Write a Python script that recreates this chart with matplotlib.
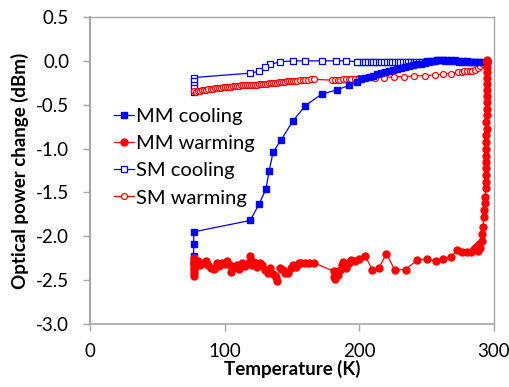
import numpy as np
import matplotlib
matplotlib.use("Agg")
import matplotlib.pyplot as plt

plt.rcParams['font.family'] = ['Lato', 'DejaVu Sans']

# MM cooling (filled squares), measured from 295 K down to 77 K
mm_cool_T = [295, 292, 289, 286, 283, 280, 277, 274, 271, 268, 265, 262,
             258, 255, 252, 249, 246, 243, 240, 237, 234, 231, 228, 225,
             222, 219, 216, 213, 210, 207, 204, 201, 198, 192.5, 183.5, 172,
             160, 150.5, 142, 136, 133, 130.7, 125.7, 119, 77, 77, 77, 77]
mm_cool_P = [-0.01, -0.01, -0.01, -0.01, -0.01, 0.0, 0.0, 0.0, 0.01, 0.01, 0.01, 0.01,
             0.01, 0.0, -0.01, -0.02, -0.03, -0.04, -0.05, -0.06, -0.07, -0.08, -0.09, -0.10,
             -0.11, -0.13, -0.14, -0.15, -0.17, -0.18, -0.20, -0.21, -0.24, -0.28, -0.33, -0.38,
             -0.51, -0.69, -0.90, -1.04, -1.26, -1.46, -1.63, -1.82, -1.95, -2.09, -2.23, -2.28]

# MM warming (filled circles), 77 K back up to 295 K
mm_warm_T = [77, 77, 77, 77, 77, 77, 77, 77, 77,
             78, 79, 80, 82, 84, 86, 88, 90, 92, 94, 96, 98, 100, 102, 104, 105,
             107, 109, 111, 113, 115, 117, 119, 120, 122, 124, 126, 128, 130, 132,
             134, 136, 138, 139, 141, 143, 145, 147, 149, 151, 153, 155, 157, 160,
             163, 166, 181, 181, 182, 184, 186, 187, 188, 190, 192, 194, 197, 200,
             204.6, 209.6, 214.5, 220.2, 226.2, 234.4, 243, 250.5, 256.7, 262.4,
             267.9, 272.8, 276, 280, 283, 285, 286.5, 288, 289, 290, 291, 291.5,
             292, 292.3, 292.8, 293.2, 293.5, 293.8, 294.0, 294.2, 294.1, 294.3,
             294.2, 294.4, 294.3, 294.4, 294.5, 294.4, 294.5, 294.6, 294.5, 294.6,
             294.6, 294.7, 294.6, 294.7, 294.8, 294.7, 294.8, 295, 295.2]
mm_warm_P = [-2.25, -2.28, -2.30, -2.33, -2.36, -2.39, -2.42, -2.45, -2.32,
             -2.35, -2.30, -2.28, -2.33, -2.30, -2.28, -2.33, -2.36, -2.37, -2.31,
             -2.34, -2.30, -2.32, -2.28, -2.33, -2.41,
             -2.36, -2.33, -2.37, -2.31, -2.34, -2.30, -2.23, -2.33, -2.29, -2.35,
             -2.30, -2.33, -2.38, -2.42,
             -2.36, -2.43, -2.47, -2.51, -2.36, -2.38, -2.42, -2.42, -2.36, -2.33,
             -2.35, -2.31, -2.30, -2.31,
             -2.30, -2.30, -2.40, -2.47, -2.49, -2.44, -2.38, -2.33, -2.29, -2.36,
             -2.31, -2.27, -2.28, -2.26,
             -2.23, -2.38, -2.36, -2.20, -2.38, -2.38, -2.27, -2.26, -2.28, -2.26,
             -2.24, -2.16, -2.18, -2.18, -2.18, -2.15, -2.12, -2.17, -2.09, -2.13,
             -2.05, -1.97,
             -1.90, -1.78, -1.70, -1.62, -1.55, -1.45, -1.38, -1.30, -1.22, -1.15,
             -1.08, -1.00, -0.92, -0.85, -0.78, -0.70, -0.62, -0.55, -0.47, -0.40,
             -0.33, -0.26, -0.20, -0.13, -0.07, -0.02, 0.0, 0.01, 0.0]

# SM cooling (open squares)
sm_cool_T = [288, 286, 284, 282, 280, 278, 276, 274, 272, 270, 268, 266, 264,
             262, 260, 258, 256, 254, 252, 250, 248, 246, 244, 242, 240, 238,
             236, 234, 232, 230, 228, 226, 224, 222, 220, 218, 216, 214, 212,
             210, 208, 206, 204, 202, 200, 198, 190, 183, 172, 160, 151, 141,
             134, 130, 125.3, 119, 77, 77, 77, 77, 77]
sm_cool_P = [-0.01, -0.01, -0.01, -0.01, -0.01, -0.01, -0.01, -0.01, 0.0, 0.0, 0.0, 0.0, 0.0,
             0.01, 0.01, 0.01, 0.0, 0.0, 0.0, 0.0, -0.01, -0.01, -0.01, -0.01, -0.01, -0.01,
             -0.01, -0.01, -0.01, -0.01, -0.01, -0.01, -0.01, -0.01, -0.01, -0.01, -0.01, -0.01, -0.01,
             -0.01, -0.01, -0.01, -0.01, -0.01, -0.01, -0.01, 0.0, 0.0, 0.0, 0.0, 0.0, -0.01,
             -0.04, -0.07, -0.12, -0.14, -0.19, -0.23, -0.27, -0.31, -0.35]

# SM warming (open circles)
sm_warm_T = [77, 79, 80.5, 82, 83.5, 85, 86.5, 88, 89.5, 91, 92.5, 94, 95.5, 97,
             98.5, 100, 101.5, 103, 104.5, 106, 107.5, 109, 110.5, 112, 113.5, 115,
             116.5, 118, 119.5, 121, 122.5, 124, 125.5, 127, 128.5, 130, 131.5, 133,
             134.5, 136, 137.5, 139, 140.5, 142, 143.5, 145, 146.5, 148, 149.5, 151,
             152.5, 154, 156, 158, 160, 162, 164, 166, 180, 182, 184, 186, 188, 190,
             192, 194, 197, 200, 203, 212, 218.5, 226, 233, 241, 249, 256, 262,
             268, 273, 276, 278, 280, 282, 284, 286, 288, 290, 292, 294, 295]
sm_warm_P = [-0.34, -0.35, -0.34, -0.34, -0.33, -0.33, -0.33, -0.32, -0.32, -0.32, -0.31, -0.31, -0.31, -0.31,
             -0.30, -0.30, -0.30, -0.30, -0.30, -0.29, -0.29, -0.29, -0.29, -0.28, -0.28, -0.28,
             -0.28, -0.27, -0.27, -0.27, -0.27, -0.27, -0.26, -0.26, -0.26, -0.26, -0.26, -0.25,
             -0.25, -0.25, -0.25, -0.25, -0.24, -0.24, -0.24, -0.24, -0.23, -0.23, -0.23, -0.23,
             -0.23, -0.23, -0.22, -0.22, -0.22, -0.22, -0.21, -0.21, -0.22, -0.22, -0.22, -0.22, -0.21, -0.21,
             -0.21, -0.21, -0.21, -0.20, -0.20, -0.19, -0.19, -0.18, -0.18, -0.17, -0.17, -0.16, -0.15,
             -0.145, -0.13, -0.125, -0.12, -0.12, -0.12, -0.11, -0.10, -0.08, -0.06, -0.04, -0.01, 0.0]

fig = plt.figure(figsize=(5.10, 3.87), dpi=100)
ax = fig.add_axes([0.1765, 0.163, 0.792, 0.793])

blue = '#0000FF'
red = '#FF0000'
ax.plot(mm_cool_T, mm_cool_P, color=blue, lw=0.9, marker='s', ms=4.5,
        mfc=blue, mec=blue, label='MM cooling', zorder=3)
ax.plot(mm_warm_T, mm_warm_P, color=red, lw=0.9, marker='o', ms=5,
        mfc=red, mec=red, label='MM warming', zorder=4)
ax.plot(sm_cool_T, sm_cool_P, color=blue, lw=0.9, marker='s', ms=4.3,
        mfc='white', mec=blue, mew=0.9, label='SM cooling', zorder=2)
ax.plot(sm_warm_T, sm_warm_P, color=red, lw=0.9, marker='o', ms=4.3,
        mfc='white', mec=red, mew=0.9, label='SM warming', zorder=2)

ax.set_xlim(0, 300)
ax.set_ylim(-3.0, 0.5)
ax.set_xticks([0, 100, 200, 300])
ax.set_yticks(np.arange(-3.0, 0.51, 0.5))
ax.set_yticklabels(['%.1f' % v for v in np.arange(-3.0, 0.51, 0.5)])

for s in ax.spines.values():
    s.set_color('#A6A6A6')
    s.set_linewidth(1.0)
ax.spines['left'].set_linewidth(1.5)
ax.spines['bottom'].set_linewidth(1.2)
ax.tick_params(direction='out', length=5, width=1, color='#A6A6A6',
               labelsize=13.5, pad=10)
ax.tick_params(axis='x', pad=9)

ax.set_xlabel('Temperature (K)', fontsize=13.5, fontweight='bold', labelpad=0)
ax.set_ylabel('Optical power change (dBm)', fontsize=13.5, fontweight='bold', labelpad=5)

ax.legend(loc='upper left', bbox_to_anchor=(0.04, 0.73), frameon=False,
          fontsize=14.5, handlelength=1.0, handletextpad=0.1, labelspacing=0.5,
          borderaxespad=0)

fig.savefig('out.png', dpi=100)
